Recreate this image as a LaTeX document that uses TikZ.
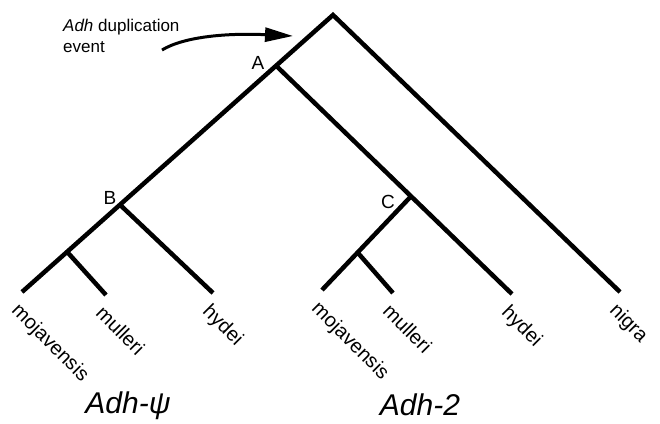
\documentclass[tikz,border=0pt]{standalone}
\usepackage{fontspec}
\setmainfont{Liberation Sans}
\usetikzlibrary{calc,arrows.meta}
\begin{document}
\begin{tikzpicture}[x=1pt,y=-1pt,
  branch/.style={line width=4.5pt,line join=miter,line cap=butt},
  tiplabel/.style={rotate=-45,anchor=north west,inner sep=0pt,font=\fontsize{20}{22}\selectfont},
  nodelabel/.style={inner sep=0pt,font=\fontsize{19}{20}\selectfont},
  genelabel/.style={inner sep=0pt,font=\fontsize{30}{32}\selectfont\itshape}]
\useasboundingbox (0,0) rectangle (660,423);
% tips and root
\coordinate (root) at (333,15);
\coordinate (moj1) at (22,292);
\coordinate (mul1) at (106,295);
\coordinate (hyd1) at (213,293);
\coordinate (moj2) at (322,290);
\coordinate (mul2) at (393,293);
\coordinate (hyd2) at (512,294);
\coordinate (nig) at (620,292);
% internal nodes
\coordinate (A) at ($(root)!0.183!(moj1)$);
\coordinate (B) at ($(root)!0.685!(moj1)$);
\coordinate (Bi) at ($(root)!0.855!(moj1)$);
\coordinate (C) at ($(A)!0.572!(hyd2)$);
\coordinate (Ci) at ($(C)!0.6!(moj2)$);
% branches
\draw[branch] (moj1) -- (root) -- (nig);
\draw[branch] (A) -- (hyd2);
\draw[branch] (B) -- (hyd1);
\draw[branch] (Bi) -- (mul1);
\draw[branch] (C) -- (moj2);
\draw[branch] (Ci) -- (mul2);
% node letters
\node[nodelabel] (labA) at (258,63) {A};
\node[nodelabel] (labB) at (110,198) {B};
\node[nodelabel] (labC) at (388,202) {C};
% tip labels
\node[tiplabel] (tmoj1) at ($(moj1)+(-1,9)$) {mojavensis};
\node[tiplabel] (tmul1) at ($(mul1)+(-1,9)$) {mulleri};
\node[tiplabel] (thyd1) at ($(hyd1)+(-1,9)$) {hydei};
\node[tiplabel] (tmoj2) at ($(moj2)+(-1,9)$) {mojavensis};
\node[tiplabel] (tmul2) at ($(mul2)+(-1,9)$) {mulleri};
\node[tiplabel] (thyd2) at ($(hyd2)+(-1,9)$) {hydei};
\node[tiplabel] (tnig) at ($(nig)+(-1,9)$) {nigra};
% gene labels
\node[genelabel] (gpsi) at (128,406) {Adh-ψ};
\node[genelabel] (g2) at (420,405) {Adh-2};
% duplication event
\node[inner sep=0pt,anchor=north west,align=left,font=\fontsize{17}{21}\selectfont] (dup) at (63,19) {\textit{Adh} duplication\\event};
\coordinate (arrstart) at (162,50);
\coordinate (arrend) at (293,36);
\draw[line width=3pt,-{Triangle[length=28pt,width=14pt]}] (arrstart) .. controls (185,36) and (230,33) .. (arrend);
\end{tikzpicture}
\end{document}
